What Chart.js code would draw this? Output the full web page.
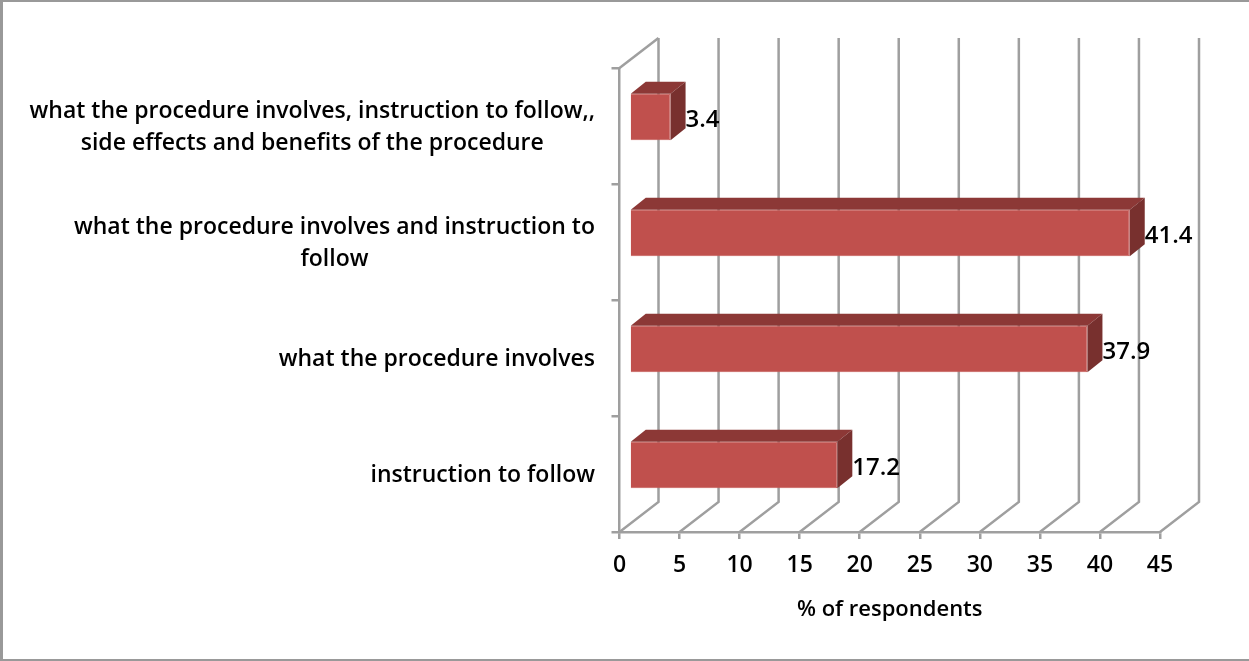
<!DOCTYPE html>
<html>
<head>
<meta charset="utf-8">
<style>
  html, body { margin: 0; padding: 0; background: #fff; }
  #wrap { position: relative; width: 1249px; height: 661px; box-shadow: inset 3px 2px 0 #999, inset 0 -2px 0 #999; }
</style>
</head>
<body>
<div id="wrap"><canvas id="surveyChart"></canvas></div>
<script src="https://cdn.jsdelivr.net/npm/chart.js@4"></script>
<script>
const categories = [
  ['what the procedure involves, instruction to follow,,', 'side effects and benefits of the procedure'],
  ['what the procedure involves and instruction to', 'follow'],
  ['what the procedure involves'],
  ['instruction to follow']
];
const percentValues = [3.4, 41.4, 37.9, 17.2];
const xTicks = [0, 5, 10, 15, 20, 25, 30, 35, 40, 45];
const axisTitle = '% of respondents';

const GRID = '#9f9f9f';
const LABEL_FONT = '600 23px "Open Sans"';
const VALUE_FONT = '600 24px "Open Sans"';
const DEPTH_X = 39, DEPTH_Y = 30;   // wall depth
const BAR_DX = 10, BAR_DY = 9;      // bars sit a bit inside the floor
const SIDE_X = 15, SIDE_Y = 12;     // depth of a bar
const BAR_STRETCH = 1.006;          // bar plane is slightly nearer than the axis

const fake3d = {
  id: 'fake3d',
  beforeDatasetsDraw(chart) {
    const { ctx, chartArea, scales } = chart;
    ctx.save();
    ctx.strokeStyle = GRID;
    ctx.lineWidth = 2.5;
    xTicks.forEach(v => {
      const x = scales.x.getPixelForValue(v);
      ctx.beginPath();
      ctx.moveTo(x + DEPTH_X, chartArea.top - DEPTH_Y);
      ctx.lineTo(x + DEPTH_X, chartArea.bottom - DEPTH_Y);
      ctx.lineTo(x, chartArea.bottom);
      ctx.stroke();
    });
    ctx.beginPath();
    ctx.moveTo(chartArea.left, chartArea.top);
    ctx.lineTo(chartArea.left + DEPTH_X, chartArea.top - DEPTH_Y);
    ctx.stroke();
    ctx.restore();
    const base = scales.x.getPixelForValue(0);
    ctx.save();
    ctx.translate(base + BAR_DX, -BAR_DY);
    ctx.scale(BAR_STRETCH, 1);
    ctx.translate(-base, 0);
  },
  afterDatasetsDraw(chart) {
    const { ctx } = chart;
    ctx.restore();
    chart.getDatasetMeta(0).data.forEach((bar, i) => {
      const left = bar.base + BAR_DX;
      const right = left + (bar.x - bar.base) * BAR_STRETCH;
      const top = bar.y - bar.height / 2 - BAR_DY;
      const bottom = bar.y + bar.height / 2 - BAR_DY;

      ctx.fillStyle = '#8c3836';
      ctx.beginPath();
      ctx.moveTo(left, top);
      ctx.lineTo(left + SIDE_X, top - SIDE_Y);
      ctx.lineTo(right + SIDE_X, top - SIDE_Y);
      ctx.lineTo(right, top);
      ctx.closePath();
      ctx.fill();

      ctx.fillStyle = '#78302e';
      ctx.beginPath();
      ctx.moveTo(right, top);
      ctx.lineTo(right + SIDE_X, top - SIDE_Y);
      ctx.lineTo(right + SIDE_X, bottom - SIDE_Y);
      ctx.lineTo(right, bottom);
      ctx.closePath();
      ctx.fill();

      // value label
      ctx.fillStyle = '#000';
      ctx.font = VALUE_FONT;
      ctx.textAlign = 'left';
      ctx.textBaseline = 'middle';
      ctx.fillText(percentValues[i], right + SIDE_X, bar.y - BAR_DY + 3);
    });
  },
  afterDraw(chart) {
    // category labels: block is right aligned, lines centred inside the block
    const { ctx, scales } = chart;
    const rightEdge = 595, lineH = 32;
    ctx.save();
    ctx.fillStyle = '#000';
    ctx.font = LABEL_FONT;
    ctx.textAlign = 'center';
    ctx.textBaseline = 'middle';
    categories.forEach((lines, i) => {
      const w = Math.max(...lines.map(l => ctx.measureText(l).width));
      const yMid = scales.y.getPixelForTick(i) + 1;
      lines.forEach((l, n) => {
        ctx.fillText(l, rightEdge - w / 2, yMid + (n - (lines.length - 1) / 2) * lineH);
      });
    });
    ctx.restore();
  }
};

new Chart(document.getElementById('surveyChart').getContext('2d'), {
  type: 'bar',
  data: {
    labels: categories,
    datasets: [{
      data: percentValues,
      backgroundColor: '#c0504d',
      borderColor: '#c55a57',
      borderWidth: 1,
      barPercentage: 0.4,
      categoryPercentage: 1
    }]
  },
  options: {
    indexAxis: 'y',
    responsive: true,
    maintainAspectRatio: false,
    animation: false,
    layout: { padding: { top: 68, right: 89, left: 0, bottom: 0 } },
    plugins: { legend: { display: false }, tooltip: { enabled: false } },
    scales: {
      x: {
        min: 0,
        max: 45,
        afterBuildTicks(scale) { scale.ticks = xTicks.map(v => ({ value: v })); },
        afterFit(scale) { scale.height = 129; },
        grid: { drawOnChartArea: false, color: GRID, lineWidth: 2.5, tickLength: 7 },
        border: { color: GRID, width: 2.5 },
        ticks: { color: '#000', font: { family: 'Open Sans', size: 23, weight: '600' }, padding: 13, maxRotation: 0 },
        title: { display: true, text: axisTitle, color: '#000', font: { family: 'Open Sans', size: 22, weight: '600' }, padding: { top: 16, bottom: 38 } }
      },
      y: {
        afterFit(scale) { scale.width = 619.5; },
        grid: { drawOnChartArea: false, color: GRID, lineWidth: 2.5, tickLength: 8 },
        border: { color: GRID, width: 2.5 },
        ticks: { display: false }
      }
    }
  },
  plugins: [fake3d]
});
</script>
</body>
</html>
